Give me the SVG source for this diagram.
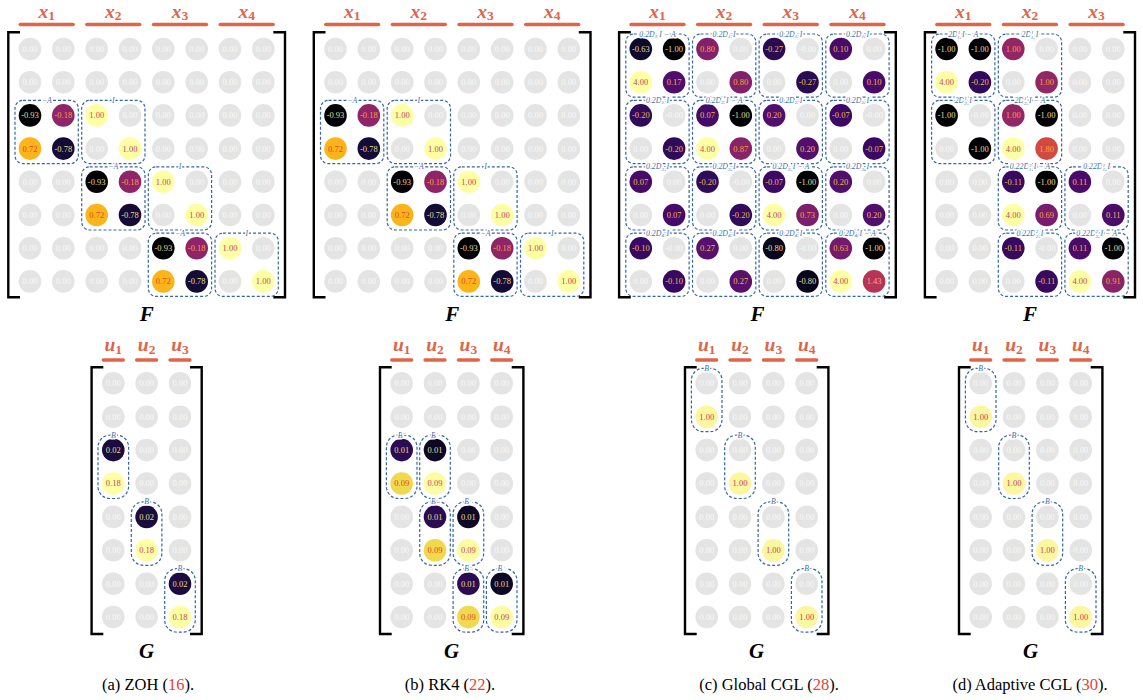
<svg xmlns="http://www.w3.org/2000/svg" width="1143" height="700" viewBox="0 0 1143 700">
<style>
.m{fill:#e4e4e4}
.m text{font-family:"Liberation Serif","DejaVu Serif",serif;font-size:8.5px;text-anchor:middle;fill:#f8f8f8}
.m text.t1{fill:#e2dd8c}
.m text.t2{fill:#ebb64c}
.m text.t3{fill:#f6a03c}
.m text.t4{fill:#e04a2a}
.m text.t5{fill:#d03f57}
.m text.t6{fill:#f9ad80}
.m text.t7{fill:#fca03e}
.bx{fill:none;stroke:#3565a5;stroke-width:1.2;stroke-dasharray:3 2}
.bl{font-family:"Liberation Serif","DejaVu Serif",serif;font-style:italic;font-size:7.8px;fill:#4272ad;text-anchor:middle;stroke:#fff;stroke-width:3;stroke-linejoin:round;paint-order:stroke}
.br{fill:none;stroke:#000;stroke-width:2.4}
.lab{font-family:"Liberation Serif","DejaVu Serif",serif;font-weight:bold;font-style:italic;font-size:19.5px;fill:#e06548;text-anchor:middle}
.lab tspan{font-style:normal;font-size:13.5px}
.bar{stroke:#e06548;stroke-width:3.3;stroke-linecap:round}
.mt{font-family:"Liberation Serif","DejaVu Serif",serif;font-style:italic;font-weight:bold;font-size:21px;text-anchor:middle;fill:#000}
.cap{font-family:"Liberation Serif","DejaVu Serif",serif;font-size:16.5px;text-anchor:middle;fill:#000}
</style>

<!-- ============ (a) F ============ -->
<g id="panel-a-F" transform="translate(30,49)">
<g id="a-F-labels">
<line class="bar" x1="-9.8" y1="-24.5" x2="43.2" y2="-24.5"/><line class="bar" x1="56.8" y1="-24.5" x2="109.8" y2="-24.5"/><line class="bar" x1="123.5" y1="-24.5" x2="176.5" y2="-24.5"/><line class="bar" x1="190.2" y1="-24.5" x2="243.2" y2="-24.5"/>
<text class="lab" x="16.7" y="-31.5">x<tspan dy="2.5">1</tspan></text><text class="lab" x="83.3" y="-31.5">x<tspan dy="2.5">2</tspan></text><text class="lab" x="150" y="-31.5">x<tspan dy="2.5">3</tspan></text><text class="lab" x="216.7" y="-31.5">x<tspan dy="2.5">4</tspan></text>
</g>
<path class="br" d="M-10,-16.7H-21.7V248.3H-10M243.3,-16.7H255V248.3H243.3"/>
<g class="m">
<g><circle cx="0" r="11.3"/><text x="0" y="2.9">0.00</text><circle cx="33.3" r="11.3"/><text x="33.3" y="2.9">0.00</text><circle cx="66.7" r="11.3"/><text x="66.7" y="2.9">0.00</text><circle cx="100" r="11.3"/><text x="100" y="2.9">0.00</text><circle cx="133.3" r="11.3"/><text x="133.3" y="2.9">0.00</text><circle cx="166.7" r="11.3"/><text x="166.7" y="2.9">0.00</text><circle cx="200" r="11.3"/><text x="200" y="2.9">0.00</text><circle cx="233.3" r="11.3"/><text x="233.3" y="2.9">0.00</text></g>
<g transform="translate(0,33.2)"><circle cx="0" r="11.3"/><text x="0" y="2.9">0.00</text><circle cx="33.3" r="11.3"/><text x="33.3" y="2.9">0.00</text><circle cx="66.7" r="11.3"/><text x="66.7" y="2.9">0.00</text><circle cx="100" r="11.3"/><text x="100" y="2.9">0.00</text><circle cx="133.3" r="11.3"/><text x="133.3" y="2.9">0.00</text><circle cx="166.7" r="11.3"/><text x="166.7" y="2.9">0.00</text><circle cx="200" r="11.3"/><text x="200" y="2.9">0.00</text><circle cx="233.3" r="11.3"/><text x="233.3" y="2.9">0.00</text></g>
<g transform="translate(0,66.4)"><circle cx="0" r="11.3" fill="#000004"/><text x="0" y="2.9" class="t1">-0.93</text><circle cx="33.3" r="11.3" fill="#8f2469"/><text x="33.3" y="2.9" class="t3">-0.18</text><circle cx="66.7" r="11.3" fill="#fcffa4"/><text x="66.7" y="2.9" class="t5">1.00</text><circle cx="100" r="11.3"/><text x="100" y="2.9">0.00</text><circle cx="133.3" r="11.3"/><text x="133.3" y="2.9">0.00</text><circle cx="166.7" r="11.3"/><text x="166.7" y="2.9">0.00</text><circle cx="200" r="11.3"/><text x="200" y="2.9">0.00</text><circle cx="233.3" r="11.3"/><text x="233.3" y="2.9">0.00</text></g>
<g transform="translate(0,99.6)"><circle cx="0" r="11.3" fill="#fbb41a"/><text x="0" y="2.9" class="t4">0.72</text><circle cx="33.3" r="11.3" fill="#150b37"/><text x="33.3" y="2.9" class="t1">-0.78</text><circle cx="66.7" r="11.3"/><text x="66.7" y="2.9">0.00</text><circle cx="100" r="11.3" fill="#fcffa4"/><text x="100" y="2.9" class="t5">1.00</text><circle cx="133.3" r="11.3"/><text x="133.3" y="2.9">0.00</text><circle cx="166.7" r="11.3"/><text x="166.7" y="2.9">0.00</text><circle cx="200" r="11.3"/><text x="200" y="2.9">0.00</text><circle cx="233.3" r="11.3"/><text x="233.3" y="2.9">0.00</text></g>
<g transform="translate(0,132.8)"><circle cx="0" r="11.3"/><text x="0" y="2.9">0.00</text><circle cx="33.3" r="11.3"/><text x="33.3" y="2.9">0.00</text><circle cx="66.7" r="11.3" fill="#000004"/><text x="66.7" y="2.9" class="t1">-0.93</text><circle cx="100" r="11.3" fill="#8f2469"/><text x="100" y="2.9" class="t3">-0.18</text><circle cx="133.3" r="11.3" fill="#fcffa4"/><text x="133.3" y="2.9" class="t5">1.00</text><circle cx="166.7" r="11.3"/><text x="166.7" y="2.9">0.00</text><circle cx="200" r="11.3"/><text x="200" y="2.9">0.00</text><circle cx="233.3" r="11.3"/><text x="233.3" y="2.9">0.00</text></g>
<g transform="translate(0,166)"><circle cx="0" r="11.3"/><text x="0" y="2.9">0.00</text><circle cx="33.3" r="11.3"/><text x="33.3" y="2.9">0.00</text><circle cx="66.7" r="11.3" fill="#fbb41a"/><text x="66.7" y="2.9" class="t4">0.72</text><circle cx="100" r="11.3" fill="#150b37"/><text x="100" y="2.9" class="t1">-0.78</text><circle cx="133.3" r="11.3"/><text x="133.3" y="2.9">0.00</text><circle cx="166.7" r="11.3" fill="#fcffa4"/><text x="166.7" y="2.9" class="t5">1.00</text><circle cx="200" r="11.3"/><text x="200" y="2.9">0.00</text><circle cx="233.3" r="11.3"/><text x="233.3" y="2.9">0.00</text></g>
<g transform="translate(0,199.2)"><circle cx="0" r="11.3"/><text x="0" y="2.9">0.00</text><circle cx="33.3" r="11.3"/><text x="33.3" y="2.9">0.00</text><circle cx="66.7" r="11.3"/><text x="66.7" y="2.9">0.00</text><circle cx="100" r="11.3"/><text x="100" y="2.9">0.00</text><circle cx="133.3" r="11.3" fill="#000004"/><text x="133.3" y="2.9" class="t1">-0.93</text><circle cx="166.7" r="11.3" fill="#8f2469"/><text x="166.7" y="2.9" class="t3">-0.18</text><circle cx="200" r="11.3" fill="#fcffa4"/><text x="200" y="2.9" class="t5">1.00</text><circle cx="233.3" r="11.3"/><text x="233.3" y="2.9">0.00</text></g>
<g transform="translate(0,232.4)"><circle cx="0" r="11.3"/><text x="0" y="2.9">0.00</text><circle cx="33.3" r="11.3"/><text x="33.3" y="2.9">0.00</text><circle cx="66.7" r="11.3"/><text x="66.7" y="2.9">0.00</text><circle cx="100" r="11.3"/><text x="100" y="2.9">0.00</text><circle cx="133.3" r="11.3" fill="#fbb41a"/><text x="133.3" y="2.9" class="t4">0.72</text><circle cx="166.7" r="11.3" fill="#150b37"/><text x="166.7" y="2.9" class="t1">-0.78</text><circle cx="200" r="11.3"/><text x="200" y="2.9">0.00</text><circle cx="233.3" r="11.3" fill="#fcffa4"/><text x="233.3" y="2.9" class="t5">1.00</text></g>
</g>
<g id="a-F-blocks">
<rect class="bx" x="-15" y="51.4" width="63.3" height="63.2" rx="8"/><text class="bl" x="16.7" y="53.9">−A</text>
<rect class="bx" x="51.7" y="51.4" width="63.3" height="63.2" rx="8"/><text class="bl" x="83.3" y="53.9">I</text>
<rect class="bx" x="51.7" y="117.8" width="63.3" height="63.2" rx="8"/><text class="bl" x="83.3" y="120.3">−A</text>
<rect class="bx" x="118.3" y="117.8" width="63.3" height="63.2" rx="8"/><text class="bl" x="150" y="120.3">I</text>
<rect class="bx" x="118.3" y="184.2" width="63.3" height="63.2" rx="8"/><text class="bl" x="150" y="186.7">−A</text>
<rect class="bx" x="185" y="184.2" width="63.3" height="63.2" rx="8"/><text class="bl" x="216.7" y="186.7">I</text>
</g>
<text class="mt" x="116.7" y="272">F</text>
</g>

<!-- ============ (b) F ============ -->
<g id="panel-b-F" transform="translate(335.5,49)">
<g id="b-F-labels">
<line class="bar" x1="-9.8" y1="-24.5" x2="43.2" y2="-24.5"/><line class="bar" x1="56.8" y1="-24.5" x2="109.8" y2="-24.5"/><line class="bar" x1="123.5" y1="-24.5" x2="176.5" y2="-24.5"/><line class="bar" x1="190.2" y1="-24.5" x2="243.2" y2="-24.5"/>
<text class="lab" x="16.7" y="-31.5">x<tspan dy="2.5">1</tspan></text><text class="lab" x="83.3" y="-31.5">x<tspan dy="2.5">2</tspan></text><text class="lab" x="150" y="-31.5">x<tspan dy="2.5">3</tspan></text><text class="lab" x="216.7" y="-31.5">x<tspan dy="2.5">4</tspan></text>
</g>
<path class="br" d="M-10,-16.7H-21.7V248.3H-10M243.3,-16.7H255V248.3H243.3"/>
<g class="m">
<g><circle cx="0" r="11.3"/><text x="0" y="2.9">0.00</text><circle cx="33.3" r="11.3"/><text x="33.3" y="2.9">0.00</text><circle cx="66.7" r="11.3"/><text x="66.7" y="2.9">0.00</text><circle cx="100" r="11.3"/><text x="100" y="2.9">0.00</text><circle cx="133.3" r="11.3"/><text x="133.3" y="2.9">0.00</text><circle cx="166.7" r="11.3"/><text x="166.7" y="2.9">0.00</text><circle cx="200" r="11.3"/><text x="200" y="2.9">0.00</text><circle cx="233.3" r="11.3"/><text x="233.3" y="2.9">0.00</text></g>
<g transform="translate(0,33.2)"><circle cx="0" r="11.3"/><text x="0" y="2.9">0.00</text><circle cx="33.3" r="11.3"/><text x="33.3" y="2.9">0.00</text><circle cx="66.7" r="11.3"/><text x="66.7" y="2.9">0.00</text><circle cx="100" r="11.3"/><text x="100" y="2.9">0.00</text><circle cx="133.3" r="11.3"/><text x="133.3" y="2.9">0.00</text><circle cx="166.7" r="11.3"/><text x="166.7" y="2.9">0.00</text><circle cx="200" r="11.3"/><text x="200" y="2.9">0.00</text><circle cx="233.3" r="11.3"/><text x="233.3" y="2.9">0.00</text></g>
<g transform="translate(0,66.4)"><circle cx="0" r="11.3" fill="#000004"/><text x="0" y="2.9" class="t1">-0.93</text><circle cx="33.3" r="11.3" fill="#8f2469"/><text x="33.3" y="2.9" class="t3">-0.18</text><circle cx="66.7" r="11.3" fill="#fcffa4"/><text x="66.7" y="2.9" class="t5">1.00</text><circle cx="100" r="11.3"/><text x="100" y="2.9">0.00</text><circle cx="133.3" r="11.3"/><text x="133.3" y="2.9">0.00</text><circle cx="166.7" r="11.3"/><text x="166.7" y="2.9">0.00</text><circle cx="200" r="11.3"/><text x="200" y="2.9">0.00</text><circle cx="233.3" r="11.3"/><text x="233.3" y="2.9">0.00</text></g>
<g transform="translate(0,99.6)"><circle cx="0" r="11.3" fill="#fbb41a"/><text x="0" y="2.9" class="t4">0.72</text><circle cx="33.3" r="11.3" fill="#150b37"/><text x="33.3" y="2.9" class="t1">-0.78</text><circle cx="66.7" r="11.3"/><text x="66.7" y="2.9">0.00</text><circle cx="100" r="11.3" fill="#fcffa4"/><text x="100" y="2.9" class="t5">1.00</text><circle cx="133.3" r="11.3"/><text x="133.3" y="2.9">0.00</text><circle cx="166.7" r="11.3"/><text x="166.7" y="2.9">0.00</text><circle cx="200" r="11.3"/><text x="200" y="2.9">0.00</text><circle cx="233.3" r="11.3"/><text x="233.3" y="2.9">0.00</text></g>
<g transform="translate(0,132.8)"><circle cx="0" r="11.3"/><text x="0" y="2.9">0.00</text><circle cx="33.3" r="11.3"/><text x="33.3" y="2.9">0.00</text><circle cx="66.7" r="11.3" fill="#000004"/><text x="66.7" y="2.9" class="t1">-0.93</text><circle cx="100" r="11.3" fill="#8f2469"/><text x="100" y="2.9" class="t3">-0.18</text><circle cx="133.3" r="11.3" fill="#fcffa4"/><text x="133.3" y="2.9" class="t5">1.00</text><circle cx="166.7" r="11.3"/><text x="166.7" y="2.9">0.00</text><circle cx="200" r="11.3"/><text x="200" y="2.9">0.00</text><circle cx="233.3" r="11.3"/><text x="233.3" y="2.9">0.00</text></g>
<g transform="translate(0,166)"><circle cx="0" r="11.3"/><text x="0" y="2.9">0.00</text><circle cx="33.3" r="11.3"/><text x="33.3" y="2.9">0.00</text><circle cx="66.7" r="11.3" fill="#fbb41a"/><text x="66.7" y="2.9" class="t4">0.72</text><circle cx="100" r="11.3" fill="#150b37"/><text x="100" y="2.9" class="t1">-0.78</text><circle cx="133.3" r="11.3"/><text x="133.3" y="2.9">0.00</text><circle cx="166.7" r="11.3" fill="#fcffa4"/><text x="166.7" y="2.9" class="t5">1.00</text><circle cx="200" r="11.3"/><text x="200" y="2.9">0.00</text><circle cx="233.3" r="11.3"/><text x="233.3" y="2.9">0.00</text></g>
<g transform="translate(0,199.2)"><circle cx="0" r="11.3"/><text x="0" y="2.9">0.00</text><circle cx="33.3" r="11.3"/><text x="33.3" y="2.9">0.00</text><circle cx="66.7" r="11.3"/><text x="66.7" y="2.9">0.00</text><circle cx="100" r="11.3"/><text x="100" y="2.9">0.00</text><circle cx="133.3" r="11.3" fill="#000004"/><text x="133.3" y="2.9" class="t1">-0.93</text><circle cx="166.7" r="11.3" fill="#8f2469"/><text x="166.7" y="2.9" class="t3">-0.18</text><circle cx="200" r="11.3" fill="#fcffa4"/><text x="200" y="2.9" class="t5">1.00</text><circle cx="233.3" r="11.3"/><text x="233.3" y="2.9">0.00</text></g>
<g transform="translate(0,232.4)"><circle cx="0" r="11.3"/><text x="0" y="2.9">0.00</text><circle cx="33.3" r="11.3"/><text x="33.3" y="2.9">0.00</text><circle cx="66.7" r="11.3"/><text x="66.7" y="2.9">0.00</text><circle cx="100" r="11.3"/><text x="100" y="2.9">0.00</text><circle cx="133.3" r="11.3" fill="#fbb41a"/><text x="133.3" y="2.9" class="t4">0.72</text><circle cx="166.7" r="11.3" fill="#150b37"/><text x="166.7" y="2.9" class="t1">-0.78</text><circle cx="200" r="11.3"/><text x="200" y="2.9">0.00</text><circle cx="233.3" r="11.3" fill="#fcffa4"/><text x="233.3" y="2.9" class="t5">1.00</text></g>
</g>
<g id="b-F-blocks">
<rect class="bx" x="-15" y="51.4" width="63.3" height="63.2" rx="8"/><text class="bl" x="16.7" y="53.9">−A</text>
<rect class="bx" x="51.7" y="51.4" width="63.3" height="63.2" rx="8"/><text class="bl" x="83.3" y="53.9">I</text>
<rect class="bx" x="51.7" y="117.8" width="63.3" height="63.2" rx="8"/><text class="bl" x="83.3" y="120.3">−A</text>
<rect class="bx" x="118.3" y="117.8" width="63.3" height="63.2" rx="8"/><text class="bl" x="150" y="120.3">I</text>
<rect class="bx" x="118.3" y="184.2" width="63.3" height="63.2" rx="8"/><text class="bl" x="150" y="186.7">−A</text>
<rect class="bx" x="185" y="184.2" width="63.3" height="63.2" rx="8"/><text class="bl" x="216.7" y="186.7">I</text>
</g>
<text class="mt" x="116.7" y="272">F</text>
</g>

<!-- ============ (c) F ============ -->
<g id="panel-c-F" transform="translate(640.8,49)">
<g id="c-F-labels">
<line class="bar" x1="-9.8" y1="-24.5" x2="43.2" y2="-24.5"/><line class="bar" x1="56.8" y1="-24.5" x2="109.8" y2="-24.5"/><line class="bar" x1="123.5" y1="-24.5" x2="176.5" y2="-24.5"/><line class="bar" x1="190.2" y1="-24.5" x2="243.2" y2="-24.5"/>
<text class="lab" x="16.7" y="-31.5">x<tspan dy="2.5">1</tspan></text><text class="lab" x="83.3" y="-31.5">x<tspan dy="2.5">2</tspan></text><text class="lab" x="150" y="-31.5">x<tspan dy="2.5">3</tspan></text><text class="lab" x="216.7" y="-31.5">x<tspan dy="2.5">4</tspan></text>
</g>
<path class="br" d="M-10,-16.7H-21.7V248.3H-10M243.3,-16.7H255V248.3H243.3"/>
<g class="m">
<g><circle cx="0" r="11.3" fill="#0f092e"/><text x="0" y="2.9" class="t1">-0.63</text><circle cx="33.3" r="11.3" fill="#000004"/><text x="33.3" y="2.9" class="t1">-1.00</text><circle cx="66.7" r="11.3" fill="#82206c"/><text x="66.7" y="2.9" class="t3">0.80</text><circle cx="100" r="11.3"/><text x="100" y="2.9">0.00</text><circle cx="133.3" r="11.3" fill="#2a0b52"/><text x="133.3" y="2.9" class="t2">-0.27</text><circle cx="166.7" r="11.3"/><text x="166.7" y="2.9">-0.00</text><circle cx="200" r="11.3" fill="#490b6a"/><text x="200" y="2.9" class="t2">0.10</text><circle cx="233.3" r="11.3"/><text x="233.3" y="2.9">0.00</text></g>
<g transform="translate(0,33.2)"><circle cx="0" r="11.3" fill="#fcffa4"/><text x="0" y="2.9" class="t5">4.00</text><circle cx="33.3" r="11.3" fill="#500d6c"/><text x="33.3" y="2.9" class="t2">0.17</text><circle cx="66.7" r="11.3"/><text x="66.7" y="2.9">0.00</text><circle cx="100" r="11.3" fill="#82206c"/><text x="100" y="2.9" class="t3">0.80</text><circle cx="133.3" r="11.3"/><text x="133.3" y="2.9">0.00</text><circle cx="166.7" r="11.3" fill="#2a0b52"/><text x="166.7" y="2.9" class="t2">-0.27</text><circle cx="200" r="11.3"/><text x="200" y="2.9">0.00</text><circle cx="233.3" r="11.3" fill="#490b6a"/><text x="233.3" y="2.9" class="t2">0.10</text></g>
<g transform="translate(0,66.4)"><circle cx="0" r="11.3" fill="#300a5b"/><text x="0" y="2.9" class="t2">-0.20</text><circle cx="33.3" r="11.3"/><text x="33.3" y="2.9">-0.00</text><circle cx="66.7" r="11.3" fill="#460a69"/><text x="66.7" y="2.9" class="t2">0.07</text><circle cx="100" r="11.3" fill="#000004"/><text x="100" y="2.9" class="t1">-1.00</text><circle cx="133.3" r="11.3" fill="#520e6d"/><text x="133.3" y="2.9" class="t2">0.20</text><circle cx="166.7" r="11.3"/><text x="166.7" y="2.9">0.00</text><circle cx="200" r="11.3" fill="#3b0964"/><text x="200" y="2.9" class="t2">-0.07</text><circle cx="233.3" r="11.3"/><text x="233.3" y="2.9">-0.00</text></g>
<g transform="translate(0,99.6)"><circle cx="0" r="11.3"/><text x="0" y="2.9">0.00</text><circle cx="33.3" r="11.3" fill="#300a5b"/><text x="33.3" y="2.9" class="t2">-0.20</text><circle cx="66.7" r="11.3" fill="#fcffa4"/><text x="66.7" y="2.9" class="t5">4.00</text><circle cx="100" r="11.3" fill="#88226a"/><text x="100" y="2.9" class="t3">0.87</text><circle cx="133.3" r="11.3"/><text x="133.3" y="2.9">0.00</text><circle cx="166.7" r="11.3" fill="#520e6d"/><text x="166.7" y="2.9" class="t2">0.20</text><circle cx="200" r="11.3"/><text x="200" y="2.9">0.00</text><circle cx="233.3" r="11.3" fill="#3b0964"/><text x="233.3" y="2.9" class="t2">-0.07</text></g>
<g transform="translate(0,132.8)"><circle cx="0" r="11.3" fill="#460a69"/><text x="0" y="2.9" class="t2">0.07</text><circle cx="33.3" r="11.3"/><text x="33.3" y="2.9">0.00</text><circle cx="66.7" r="11.3" fill="#300a5b"/><text x="66.7" y="2.9" class="t2">-0.20</text><circle cx="100" r="11.3"/><text x="100" y="2.9">-0.00</text><circle cx="133.3" r="11.3" fill="#3b0964"/><text x="133.3" y="2.9" class="t2">-0.07</text><circle cx="166.7" r="11.3" fill="#000004"/><text x="166.7" y="2.9" class="t1">-1.00</text><circle cx="200" r="11.3" fill="#520e6d"/><text x="200" y="2.9" class="t2">0.20</text><circle cx="233.3" r="11.3"/><text x="233.3" y="2.9">0.00</text></g>
<g transform="translate(0,166)"><circle cx="0" r="11.3"/><text x="0" y="2.9">0.00</text><circle cx="33.3" r="11.3" fill="#460a69"/><text x="33.3" y="2.9" class="t2">0.07</text><circle cx="66.7" r="11.3"/><text x="66.7" y="2.9">0.00</text><circle cx="100" r="11.3" fill="#300a5b"/><text x="100" y="2.9" class="t2">-0.20</text><circle cx="133.3" r="11.3" fill="#fcffa4"/><text x="133.3" y="2.9" class="t5">4.00</text><circle cx="166.7" r="11.3" fill="#7c1d6d"/><text x="166.7" y="2.9" class="t3">0.73</text><circle cx="200" r="11.3"/><text x="200" y="2.9">0.00</text><circle cx="233.3" r="11.3" fill="#520e6d"/><text x="233.3" y="2.9" class="t2">0.20</text></g>
<g transform="translate(0,199.2)"><circle cx="0" r="11.3" fill="#380962"/><text x="0" y="2.9" class="t2">-0.10</text><circle cx="33.3" r="11.3"/><text x="33.3" y="2.9">-0.00</text><circle cx="66.7" r="11.3" fill="#58106e"/><text x="66.7" y="2.9" class="t2">0.27</text><circle cx="100" r="11.3"/><text x="100" y="2.9">0.00</text><circle cx="133.3" r="11.3" fill="#08051d"/><text x="133.3" y="2.9" class="t1">-0.80</text><circle cx="166.7" r="11.3"/><text x="166.7" y="2.9">-0.00</text><circle cx="200" r="11.3" fill="#751a6e"/><text x="200" y="2.9" class="t3">0.63</text><circle cx="233.3" r="11.3" fill="#000004"/><text x="233.3" y="2.9" class="t1">-1.00</text></g>
<g transform="translate(0,232.4)"><circle cx="0" r="11.3"/><text x="0" y="2.9">0.00</text><circle cx="33.3" r="11.3" fill="#380962"/><text x="33.3" y="2.9" class="t2">-0.10</text><circle cx="66.7" r="11.3"/><text x="66.7" y="2.9">0.00</text><circle cx="100" r="11.3" fill="#58106e"/><text x="100" y="2.9" class="t2">0.27</text><circle cx="133.3" r="11.3"/><text x="133.3" y="2.9">0.00</text><circle cx="166.7" r="11.3" fill="#08051d"/><text x="166.7" y="2.9" class="t1">-0.80</text><circle cx="200" r="11.3" fill="#fcffa4"/><text x="200" y="2.9" class="t5">4.00</text><circle cx="233.3" r="11.3" fill="#b63458"/><text x="233.3" y="2.9" class="t6">1.43</text></g>
</g>
<g id="c-F-blocks">
<rect class="bx" x="-15" y="-15" width="63.3" height="63.2" rx="8"/><text class="bl" x="16.7" y="-12.5">0.2D<tspan font-size="5" dy="1.5">11</tspan><tspan dy="-1.5">I − A</tspan></text>
<rect class="bx" x="51.7" y="-15" width="63.3" height="63.2" rx="8"/><text class="bl" x="83.3" y="-12.5">0.2D<tspan font-size="5" dy="1.5">12</tspan><tspan dy="-1.5">I</tspan></text>
<rect class="bx" x="118.3" y="-15" width="63.3" height="63.2" rx="8"/><text class="bl" x="150" y="-12.5">0.2D<tspan font-size="5" dy="1.5">13</tspan><tspan dy="-1.5">I</tspan></text>
<rect class="bx" x="185" y="-15" width="63.3" height="63.2" rx="8"/><text class="bl" x="216.7" y="-12.5">0.2D<tspan font-size="5" dy="1.5">14</tspan><tspan dy="-1.5">I</tspan></text>
<rect class="bx" x="-15" y="51.4" width="63.3" height="63.2" rx="8"/><text class="bl" x="16.7" y="53.9">0.2D<tspan font-size="5" dy="1.5">21</tspan><tspan dy="-1.5">I</tspan></text>
<rect class="bx" x="51.7" y="51.4" width="63.3" height="63.2" rx="8"/><text class="bl" x="83.3" y="53.9">0.2D<tspan font-size="5" dy="1.5">22</tspan><tspan dy="-1.5">I − A</tspan></text>
<rect class="bx" x="118.3" y="51.4" width="63.3" height="63.2" rx="8"/><text class="bl" x="150" y="53.9">0.2D<tspan font-size="5" dy="1.5">23</tspan><tspan dy="-1.5">I</tspan></text>
<rect class="bx" x="185" y="51.4" width="63.3" height="63.2" rx="8"/><text class="bl" x="216.7" y="53.9">0.2D<tspan font-size="5" dy="1.5">24</tspan><tspan dy="-1.5">I</tspan></text>
<rect class="bx" x="-15" y="117.8" width="63.3" height="63.2" rx="8"/><text class="bl" x="16.7" y="120.3">0.2D<tspan font-size="5" dy="1.5">31</tspan><tspan dy="-1.5">I</tspan></text>
<rect class="bx" x="51.7" y="117.8" width="63.3" height="63.2" rx="8"/><text class="bl" x="83.3" y="120.3">0.2D<tspan font-size="5" dy="1.5">32</tspan><tspan dy="-1.5">I</tspan></text>
<rect class="bx" x="118.3" y="117.8" width="63.3" height="63.2" rx="8"/><text class="bl" x="150" y="120.3">0.2D<tspan font-size="5" dy="1.5">33</tspan><tspan dy="-1.5">I − A</tspan></text>
<rect class="bx" x="185" y="117.8" width="63.3" height="63.2" rx="8"/><text class="bl" x="216.7" y="120.3">0.2D<tspan font-size="5" dy="1.5">34</tspan><tspan dy="-1.5">I</tspan></text>
<rect class="bx" x="-15" y="184.2" width="63.3" height="63.2" rx="8"/><text class="bl" x="16.7" y="186.7">0.2D<tspan font-size="5" dy="1.5">41</tspan><tspan dy="-1.5">I</tspan></text>
<rect class="bx" x="51.7" y="184.2" width="63.3" height="63.2" rx="8"/><text class="bl" x="83.3" y="186.7">0.2D<tspan font-size="5" dy="1.5">42</tspan><tspan dy="-1.5">I</tspan></text>
<rect class="bx" x="118.3" y="184.2" width="63.3" height="63.2" rx="8"/><text class="bl" x="150" y="186.7">0.2D<tspan font-size="5" dy="1.5">43</tspan><tspan dy="-1.5">I</tspan></text>
<rect class="bx" x="185" y="184.2" width="63.3" height="63.2" rx="8"/><text class="bl" x="216.7" y="186.7">0.2D<tspan font-size="5" dy="1.5">44</tspan><tspan dy="-1.5">I − A</tspan></text>
</g>
<text class="mt" x="116.7" y="272">F</text>
</g>

<!-- ============ (d) F ============ -->
<g id="panel-d-F" transform="translate(946.6,49)">
<g id="d-F-labels">
<line class="bar" x1="-9.8" y1="-24.5" x2="43.2" y2="-24.5"/><line class="bar" x1="56.8" y1="-24.5" x2="109.8" y2="-24.5"/><line class="bar" x1="123.5" y1="-24.5" x2="176.5" y2="-24.5"/>
<text class="lab" x="16.7" y="-31.5">x<tspan dy="2.5">1</tspan></text><text class="lab" x="83.3" y="-31.5">x<tspan dy="2.5">2</tspan></text><text class="lab" x="150" y="-31.5">x<tspan dy="2.5">3</tspan></text>
</g>
<path class="br" d="M-10,-16.7H-21.7V248.3H-10M176.7,-16.7H188.4V248.3H176.7"/>
<g class="m">
<g><circle cx="0" r="11.3" fill="#000004"/><text x="0" y="2.9" class="t1">-1.00</text><circle cx="33.3" r="11.3" fill="#000004"/><text x="33.3" y="2.9" class="t1">-1.00</text><circle cx="66.7" r="11.3" fill="#932667"/><text x="66.7" y="2.9" class="t3">1.00</text><circle cx="100" r="11.3"/><text x="100" y="2.9">0.00</text><circle cx="133.3" r="11.3"/><text x="133.3" y="2.9">0.00</text><circle cx="166.7" r="11.3"/><text x="166.7" y="2.9">0.00</text></g>
<g transform="translate(0,33.2)"><circle cx="0" r="11.3" fill="#fcffa4"/><text x="0" y="2.9" class="t5">4.00</text><circle cx="33.3" r="11.3" fill="#300a5b"/><text x="33.3" y="2.9" class="t2">-0.20</text><circle cx="66.7" r="11.3"/><text x="66.7" y="2.9">0.00</text><circle cx="100" r="11.3" fill="#932667"/><text x="100" y="2.9" class="t3">1.00</text><circle cx="133.3" r="11.3"/><text x="133.3" y="2.9">0.00</text><circle cx="166.7" r="11.3"/><text x="166.7" y="2.9">0.00</text></g>
<g transform="translate(0,66.4)"><circle cx="0" r="11.3" fill="#000004"/><text x="0" y="2.9" class="t1">-1.00</text><circle cx="33.3" r="11.3"/><text x="33.3" y="2.9">-0.00</text><circle cx="66.7" r="11.3" fill="#932667"/><text x="66.7" y="2.9" class="t3">1.00</text><circle cx="100" r="11.3" fill="#000004"/><text x="100" y="2.9" class="t1">-1.00</text><circle cx="133.3" r="11.3"/><text x="133.3" y="2.9">0.00</text><circle cx="166.7" r="11.3"/><text x="166.7" y="2.9">0.00</text></g>
<g transform="translate(0,99.6)"><circle cx="0" r="11.3"/><text x="0" y="2.9">0.00</text><circle cx="33.3" r="11.3" fill="#000004"/><text x="33.3" y="2.9" class="t1">-1.00</text><circle cx="66.7" r="11.3" fill="#fcffa4"/><text x="66.7" y="2.9" class="t5">4.00</text><circle cx="100" r="11.3" fill="#d44842"/><text x="100" y="2.9" class="t7">1.80</text><circle cx="133.3" r="11.3"/><text x="133.3" y="2.9">0.00</text><circle cx="166.7" r="11.3"/><text x="166.7" y="2.9">0.00</text></g>
<g transform="translate(0,132.8)"><circle cx="0" r="11.3"/><text x="0" y="2.9">0.00</text><circle cx="33.3" r="11.3"/><text x="33.3" y="2.9">0.00</text><circle cx="66.7" r="11.3" fill="#37095f"/><text x="66.7" y="2.9" class="t2">-0.11</text><circle cx="100" r="11.3" fill="#000004"/><text x="100" y="2.9" class="t1">-1.00</text><circle cx="133.3" r="11.3" fill="#4a0b6a"/><text x="133.3" y="2.9" class="t2">0.11</text><circle cx="166.7" r="11.3"/><text x="166.7" y="2.9">0.00</text></g>
<g transform="translate(0,166)"><circle cx="0" r="11.3"/><text x="0" y="2.9">0.00</text><circle cx="33.3" r="11.3"/><text x="33.3" y="2.9">0.00</text><circle cx="66.7" r="11.3" fill="#fcffa4"/><text x="66.7" y="2.9" class="t5">4.00</text><circle cx="100" r="11.3" fill="#791c6d"/><text x="100" y="2.9" class="t3">0.69</text><circle cx="133.3" r="11.3"/><text x="133.3" y="2.9">0.00</text><circle cx="166.7" r="11.3" fill="#4a0b6a"/><text x="166.7" y="2.9" class="t2">0.11</text></g>
<g transform="translate(0,199.2)"><circle cx="0" r="11.3"/><text x="0" y="2.9">0.00</text><circle cx="33.3" r="11.3"/><text x="33.3" y="2.9">0.00</text><circle cx="66.7" r="11.3" fill="#37095f"/><text x="66.7" y="2.9" class="t2">-0.11</text><circle cx="100" r="11.3"/><text x="100" y="2.9">-0.00</text><circle cx="133.3" r="11.3" fill="#4a0b6a"/><text x="133.3" y="2.9" class="t2">0.11</text><circle cx="166.7" r="11.3" fill="#000004"/><text x="166.7" y="2.9" class="t1">-1.00</text></g>
<g transform="translate(0,232.4)"><circle cx="0" r="11.3"/><text x="0" y="2.9">0.00</text><circle cx="33.3" r="11.3"/><text x="33.3" y="2.9">0.00</text><circle cx="66.7" r="11.3"/><text x="66.7" y="2.9">0.00</text><circle cx="100" r="11.3" fill="#37095f"/><text x="100" y="2.9" class="t2">-0.11</text><circle cx="133.3" r="11.3" fill="#fcffa4"/><text x="133.3" y="2.9" class="t5">4.00</text><circle cx="166.7" r="11.3" fill="#8b2369"/><text x="166.7" y="2.9" class="t3">0.91</text></g>
</g>
<g id="d-F-blocks">
<rect class="bx" x="-15" y="-15" width="63.3" height="63.2" rx="8"/><text class="bl" x="16.7" y="-12.5">2D<tspan font-size="5" dy="-2.5">1</tspan><tspan font-size="5" dx="-2.5" dy="4.5">11</tspan><tspan dy="-2">I − A</tspan></text>
<rect class="bx" x="51.7" y="-15" width="63.3" height="63.2" rx="8"/><text class="bl" x="83.3" y="-12.5">2D<tspan font-size="5" dy="-2.5">1</tspan><tspan font-size="5" dx="-2.5" dy="4.5">12</tspan><tspan dy="-2">I</tspan></text>
<rect class="bx" x="-15" y="51.4" width="63.3" height="63.2" rx="8"/><text class="bl" x="16.7" y="53.9">2D<tspan font-size="5" dy="-2.5">1</tspan><tspan font-size="5" dx="-2.5" dy="4.5">21</tspan><tspan dy="-2">I</tspan></text>
<rect class="bx" x="51.7" y="51.4" width="63.3" height="63.2" rx="8"/><text class="bl" x="83.3" y="53.9">2D<tspan font-size="5" dy="-2.5">1</tspan><tspan font-size="5" dx="-2.5" dy="4.5">22</tspan><tspan dy="-2">I − A</tspan></text>
<rect class="bx" x="51.7" y="117.8" width="63.3" height="63.2" rx="8"/><text class="bl" x="83.3" y="120.3">0.22D<tspan font-size="5" dy="-2.5">2</tspan><tspan font-size="5" dx="-2.5" dy="4.5">11</tspan><tspan dy="-2">I − A</tspan></text>
<rect class="bx" x="118.3" y="117.8" width="63.3" height="63.2" rx="8"/><text class="bl" x="150" y="120.3">0.22D<tspan font-size="5" dy="-2.5">2</tspan><tspan font-size="5" dx="-2.5" dy="4.5">12</tspan><tspan dy="-2">I</tspan></text>
<rect class="bx" x="51.7" y="184.2" width="63.3" height="63.2" rx="8"/><text class="bl" x="83.3" y="186.7">0.22D<tspan font-size="5" dy="-2.5">2</tspan><tspan font-size="5" dx="-2.5" dy="4.5">21</tspan><tspan dy="-2">I</tspan></text>
<rect class="bx" x="118.3" y="184.2" width="63.3" height="63.2" rx="8"/><text class="bl" x="150" y="186.7">0.22D<tspan font-size="5" dy="-2.5">2</tspan><tspan font-size="5" dx="-2.5" dy="4.5">22</tspan><tspan dy="-2">I − A</tspan></text>
</g>
<text class="mt" x="83.3" y="272">F</text>
</g>

<!-- ============ (a) G ============ -->
<g id="panel-a-G" transform="translate(113.3,383.3)">
<g id="a-G-labels">
<line class="bar" x1="-10" y1="-23.3" x2="10" y2="-23.3"/><line class="bar" x1="23.3" y1="-23.3" x2="43.3" y2="-23.3"/><line class="bar" x1="56.7" y1="-23.3" x2="76.7" y2="-23.3"/>
<text class="lab" x="0" y="-32">u<tspan dy="2.5">1</tspan></text><text class="lab" x="33.3" y="-32">u<tspan dy="2.5">2</tspan></text><text class="lab" x="66.7" y="-32">u<tspan dy="2.5">3</tspan></text>
</g>
<path class="br" d="M-10,-16H-21.7V250.7H-10M76.7,-16H88.4V250.7H76.7"/>
<g class="m">
<g><circle cx="0" r="11.3"/><text x="0" y="2.9">0.00</text><circle cx="33.3" r="11.3"/><text x="33.3" y="2.9">0.00</text><circle cx="66.7" r="11.3"/><text x="66.7" y="2.9">0.00</text></g>
<g transform="translate(0,33.4)"><circle cx="0" r="11.3"/><text x="0" y="2.9">0.00</text><circle cx="33.3" r="11.3"/><text x="33.3" y="2.9">0.00</text><circle cx="66.7" r="11.3"/><text x="66.7" y="2.9">0.00</text></g>
<g transform="translate(0,66.8)"><circle cx="0" r="11.3" fill="#1b0c40"/><text x="0" y="2.9" class="t1">0.02</text><circle cx="33.3" r="11.3"/><text x="33.3" y="2.9">0.00</text><circle cx="66.7" r="11.3"/><text x="66.7" y="2.9">0.00</text></g>
<g transform="translate(0,100.2)"><circle cx="0" r="11.3" fill="#fcffa4"/><text x="0" y="2.9" class="t5">0.18</text><circle cx="33.3" r="11.3"/><text x="33.3" y="2.9">0.00</text><circle cx="66.7" r="11.3"/><text x="66.7" y="2.9">0.00</text></g>
<g transform="translate(0,133.6)"><circle cx="0" r="11.3"/><text x="0" y="2.9">0.00</text><circle cx="33.3" r="11.3" fill="#1b0c40"/><text x="33.3" y="2.9" class="t1">0.02</text><circle cx="66.7" r="11.3"/><text x="66.7" y="2.9">0.00</text></g>
<g transform="translate(0,167)"><circle cx="0" r="11.3"/><text x="0" y="2.9">0.00</text><circle cx="33.3" r="11.3" fill="#fcffa4"/><text x="33.3" y="2.9" class="t5">0.18</text><circle cx="66.7" r="11.3"/><text x="66.7" y="2.9">0.00</text></g>
<g transform="translate(0,200.4)"><circle cx="0" r="11.3"/><text x="0" y="2.9">0.00</text><circle cx="33.3" r="11.3"/><text x="33.3" y="2.9">0.00</text><circle cx="66.7" r="11.3" fill="#1b0c40"/><text x="66.7" y="2.9" class="t1">0.02</text></g>
<g transform="translate(0,233.8)"><circle cx="0" r="11.3"/><text x="0" y="2.9">0.00</text><circle cx="33.3" r="11.3"/><text x="33.3" y="2.9">0.00</text><circle cx="66.7" r="11.3" fill="#fcffa4"/><text x="66.7" y="2.9" class="t5">0.18</text></g>
</g>
<g id="a-G-blocks">
<rect class="bx" x="-15.3" y="51.8" width="30.6" height="63.4" rx="12"/><text class="bl" x="0" y="54.3">B</text>
<rect class="bx" x="18" y="118.6" width="30.6" height="63.4" rx="12"/><text class="bl" x="33.3" y="121.1">B</text>
<rect class="bx" x="51.4" y="185.4" width="30.6" height="63.4" rx="12"/><text class="bl" x="66.7" y="187.9">B</text>
</g>
<text class="mt" x="33.3" y="274.7">G</text>
</g>

<!-- ============ (b) G ============ -->
<g id="panel-b-G" transform="translate(401.7,383.3)">
<g id="b-G-labels">
<line class="bar" x1="-10" y1="-23.3" x2="10" y2="-23.3"/><line class="bar" x1="23.3" y1="-23.3" x2="43.3" y2="-23.3"/><line class="bar" x1="56.7" y1="-23.3" x2="76.7" y2="-23.3"/><line class="bar" x1="90" y1="-23.3" x2="110" y2="-23.3"/>
<text class="lab" x="0" y="-32">u<tspan dy="2.5">1</tspan></text><text class="lab" x="33.3" y="-32">u<tspan dy="2.5">2</tspan></text><text class="lab" x="66.7" y="-32">u<tspan dy="2.5">3</tspan></text><text class="lab" x="100" y="-32">u<tspan dy="2.5">4</tspan></text>
</g>
<path class="br" d="M-10,-16H-21.7V250.7H-10M110,-16H121.7V250.7H110"/>
<g class="m">
<g><circle cx="0" r="11.3"/><text x="0" y="2.9">0.00</text><circle cx="33.3" r="11.3"/><text x="33.3" y="2.9">0.00</text><circle cx="66.7" r="11.3"/><text x="66.7" y="2.9">0.00</text><circle cx="100" r="11.3"/><text x="100" y="2.9">0.00</text></g>
<g transform="translate(0,33.4)"><circle cx="0" r="11.3"/><text x="0" y="2.9">0.00</text><circle cx="33.3" r="11.3"/><text x="33.3" y="2.9">0.00</text><circle cx="66.7" r="11.3"/><text x="66.7" y="2.9">0.00</text><circle cx="100" r="11.3"/><text x="100" y="2.9">0.00</text></g>
<g transform="translate(0,66.8)"><circle cx="0" r="11.3" fill="#2b0b52"/><text x="0" y="2.9" class="t1">0.01</text><circle cx="33.3" r="11.3" fill="#0d0826"/><text x="33.3" y="2.9" class="t1">0.01</text><circle cx="66.7" r="11.3"/><text x="66.7" y="2.9">0.00</text><circle cx="100" r="11.3"/><text x="100" y="2.9">0.00</text></g>
<g transform="translate(0,100.2)"><circle cx="0" r="11.3" fill="#f1d84c"/><text x="0" y="2.9" class="t4">0.09</text><circle cx="33.3" r="11.3" fill="#fcfca2"/><text x="33.3" y="2.9" class="t5">0.09</text><circle cx="66.7" r="11.3"/><text x="66.7" y="2.9">0.00</text><circle cx="100" r="11.3"/><text x="100" y="2.9">0.00</text></g>
<g transform="translate(0,133.6)"><circle cx="0" r="11.3"/><text x="0" y="2.9">0.00</text><circle cx="33.3" r="11.3" fill="#2b0b52"/><text x="33.3" y="2.9" class="t1">0.01</text><circle cx="66.7" r="11.3" fill="#0d0826"/><text x="66.7" y="2.9" class="t1">0.01</text><circle cx="100" r="11.3"/><text x="100" y="2.9">0.00</text></g>
<g transform="translate(0,167)"><circle cx="0" r="11.3"/><text x="0" y="2.9">0.00</text><circle cx="33.3" r="11.3" fill="#f1d84c"/><text x="33.3" y="2.9" class="t4">0.09</text><circle cx="66.7" r="11.3" fill="#fcfca2"/><text x="66.7" y="2.9" class="t5">0.09</text><circle cx="100" r="11.3"/><text x="100" y="2.9">0.00</text></g>
<g transform="translate(0,200.4)"><circle cx="0" r="11.3"/><text x="0" y="2.9">0.00</text><circle cx="33.3" r="11.3"/><text x="33.3" y="2.9">0.00</text><circle cx="66.7" r="11.3" fill="#2b0b52"/><text x="66.7" y="2.9" class="t1">0.01</text><circle cx="100" r="11.3" fill="#0d0826"/><text x="100" y="2.9" class="t1">0.01</text></g>
<g transform="translate(0,233.8)"><circle cx="0" r="11.3"/><text x="0" y="2.9">0.00</text><circle cx="33.3" r="11.3"/><text x="33.3" y="2.9">0.00</text><circle cx="66.7" r="11.3" fill="#f1d84c"/><text x="66.7" y="2.9" class="t4">0.09</text><circle cx="100" r="11.3" fill="#fcfca2"/><text x="100" y="2.9" class="t5">0.09</text></g>
</g>
<g id="b-G-blocks">
<rect class="bx" x="-15.3" y="51.8" width="30.6" height="63.4" rx="12"/><text class="bl" x="0" y="54.3">B<tspan font-size="5" dy="-2.5">−</tspan></text>
<rect class="bx" x="18" y="51.8" width="30.6" height="63.4" rx="12"/><text class="bl" x="33.3" y="54.3">B<tspan font-size="5" dy="-2.5">+</tspan></text>
<rect class="bx" x="18" y="118.6" width="30.6" height="63.4" rx="12"/><text class="bl" x="33.3" y="121.1">B<tspan font-size="5" dy="-2.5">−</tspan></text>
<rect class="bx" x="51.4" y="118.6" width="30.6" height="63.4" rx="12"/><text class="bl" x="66.7" y="121.1">B<tspan font-size="5" dy="-2.5">+</tspan></text>
<rect class="bx" x="51.4" y="185.4" width="30.6" height="63.4" rx="12"/><text class="bl" x="66.7" y="187.9">B<tspan font-size="5" dy="-2.5">−</tspan></text>
<rect class="bx" x="84.7" y="185.4" width="30.6" height="63.4" rx="12"/><text class="bl" x="100" y="187.9">B<tspan font-size="5" dy="-2.5">+</tspan></text>
</g>
<text class="mt" x="50" y="274.7">G</text>
</g>

<!-- ============ (c) G ============ -->
<g id="panel-c-G" transform="translate(706.7,383.3)">
<g id="c-G-labels">
<line class="bar" x1="-10" y1="-23.3" x2="10" y2="-23.3"/><line class="bar" x1="23.3" y1="-23.3" x2="43.3" y2="-23.3"/><line class="bar" x1="56.7" y1="-23.3" x2="76.7" y2="-23.3"/><line class="bar" x1="90" y1="-23.3" x2="110" y2="-23.3"/>
<text class="lab" x="0" y="-32">u<tspan dy="2.5">1</tspan></text><text class="lab" x="33.3" y="-32">u<tspan dy="2.5">2</tspan></text><text class="lab" x="66.7" y="-32">u<tspan dy="2.5">3</tspan></text><text class="lab" x="100" y="-32">u<tspan dy="2.5">4</tspan></text>
</g>
<path class="br" d="M-10,-16H-21.7V250.7H-10M110,-16H121.7V250.7H110"/>
<g class="m">
<g><circle cx="0" r="11.3"/><text x="0" y="2.9">0.00</text><circle cx="33.3" r="11.3"/><text x="33.3" y="2.9">0.00</text><circle cx="66.7" r="11.3"/><text x="66.7" y="2.9">0.00</text><circle cx="100" r="11.3"/><text x="100" y="2.9">0.00</text></g>
<g transform="translate(0,33.4)"><circle cx="0" r="11.3" fill="#fbf6a0"/><text x="0" y="2.9" class="t5">1.00</text><circle cx="33.3" r="11.3"/><text x="33.3" y="2.9">0.00</text><circle cx="66.7" r="11.3"/><text x="66.7" y="2.9">0.00</text><circle cx="100" r="11.3"/><text x="100" y="2.9">0.00</text></g>
<g transform="translate(0,66.8)"><circle cx="0" r="11.3"/><text x="0" y="2.9">0.00</text><circle cx="33.3" r="11.3"/><text x="33.3" y="2.9">0.00</text><circle cx="66.7" r="11.3"/><text x="66.7" y="2.9">0.00</text><circle cx="100" r="11.3"/><text x="100" y="2.9">0.00</text></g>
<g transform="translate(0,100.2)"><circle cx="0" r="11.3"/><text x="0" y="2.9">0.00</text><circle cx="33.3" r="11.3" fill="#fbf6a0"/><text x="33.3" y="2.9" class="t5">1.00</text><circle cx="66.7" r="11.3"/><text x="66.7" y="2.9">0.00</text><circle cx="100" r="11.3"/><text x="100" y="2.9">0.00</text></g>
<g transform="translate(0,133.6)"><circle cx="0" r="11.3"/><text x="0" y="2.9">0.00</text><circle cx="33.3" r="11.3"/><text x="33.3" y="2.9">0.00</text><circle cx="66.7" r="11.3"/><text x="66.7" y="2.9">0.00</text><circle cx="100" r="11.3"/><text x="100" y="2.9">0.00</text></g>
<g transform="translate(0,167)"><circle cx="0" r="11.3"/><text x="0" y="2.9">0.00</text><circle cx="33.3" r="11.3"/><text x="33.3" y="2.9">0.00</text><circle cx="66.7" r="11.3" fill="#fbf6a0"/><text x="66.7" y="2.9" class="t5">1.00</text><circle cx="100" r="11.3"/><text x="100" y="2.9">0.00</text></g>
<g transform="translate(0,200.4)"><circle cx="0" r="11.3"/><text x="0" y="2.9">0.00</text><circle cx="33.3" r="11.3"/><text x="33.3" y="2.9">0.00</text><circle cx="66.7" r="11.3"/><text x="66.7" y="2.9">0.00</text><circle cx="100" r="11.3"/><text x="100" y="2.9">0.00</text></g>
<g transform="translate(0,233.8)"><circle cx="0" r="11.3"/><text x="0" y="2.9">0.00</text><circle cx="33.3" r="11.3"/><text x="33.3" y="2.9">0.00</text><circle cx="66.7" r="11.3"/><text x="66.7" y="2.9">0.00</text><circle cx="100" r="11.3" fill="#fbf6a0"/><text x="100" y="2.9" class="t5">1.00</text></g>
</g>
<g id="c-G-blocks">
<rect class="bx" x="-15.3" y="-15" width="30.6" height="63.4" rx="12"/><text class="bl" x="0" y="-12.5">B</text>
<rect class="bx" x="18" y="51.8" width="30.6" height="63.4" rx="12"/><text class="bl" x="33.3" y="54.3">B</text>
<rect class="bx" x="51.4" y="118.6" width="30.6" height="63.4" rx="12"/><text class="bl" x="66.7" y="121.1">B</text>
<rect class="bx" x="84.7" y="185.4" width="30.6" height="63.4" rx="12"/><text class="bl" x="100" y="187.9">B</text>
</g>
<text class="mt" x="50" y="274.7">G</text>
</g>

<!-- ============ (d) G ============ -->
<g id="panel-d-G" transform="translate(980.7,383.3)">
<g id="d-G-labels">
<line class="bar" x1="-10" y1="-23.3" x2="10" y2="-23.3"/><line class="bar" x1="23.3" y1="-23.3" x2="43.3" y2="-23.3"/><line class="bar" x1="56.7" y1="-23.3" x2="76.7" y2="-23.3"/><line class="bar" x1="90" y1="-23.3" x2="110" y2="-23.3"/>
<text class="lab" x="0" y="-32">u<tspan dy="2.5">1</tspan></text><text class="lab" x="33.3" y="-32">u<tspan dy="2.5">2</tspan></text><text class="lab" x="66.7" y="-32">u<tspan dy="2.5">3</tspan></text><text class="lab" x="100" y="-32">u<tspan dy="2.5">4</tspan></text>
</g>
<path class="br" d="M-10,-16H-21.7V250.7H-10M110,-16H121.7V250.7H110"/>
<g class="m">
<g><circle cx="0" r="11.3"/><text x="0" y="2.9">0.00</text><circle cx="33.3" r="11.3"/><text x="33.3" y="2.9">0.00</text><circle cx="66.7" r="11.3"/><text x="66.7" y="2.9">0.00</text><circle cx="100" r="11.3"/><text x="100" y="2.9">0.00</text></g>
<g transform="translate(0,33.4)"><circle cx="0" r="11.3" fill="#fbf6a0"/><text x="0" y="2.9" class="t5">1.00</text><circle cx="33.3" r="11.3"/><text x="33.3" y="2.9">0.00</text><circle cx="66.7" r="11.3"/><text x="66.7" y="2.9">0.00</text><circle cx="100" r="11.3"/><text x="100" y="2.9">0.00</text></g>
<g transform="translate(0,66.8)"><circle cx="0" r="11.3"/><text x="0" y="2.9">0.00</text><circle cx="33.3" r="11.3"/><text x="33.3" y="2.9">0.00</text><circle cx="66.7" r="11.3"/><text x="66.7" y="2.9">0.00</text><circle cx="100" r="11.3"/><text x="100" y="2.9">0.00</text></g>
<g transform="translate(0,100.2)"><circle cx="0" r="11.3"/><text x="0" y="2.9">0.00</text><circle cx="33.3" r="11.3" fill="#fbf6a0"/><text x="33.3" y="2.9" class="t5">1.00</text><circle cx="66.7" r="11.3"/><text x="66.7" y="2.9">0.00</text><circle cx="100" r="11.3"/><text x="100" y="2.9">0.00</text></g>
<g transform="translate(0,133.6)"><circle cx="0" r="11.3"/><text x="0" y="2.9">0.00</text><circle cx="33.3" r="11.3"/><text x="33.3" y="2.9">0.00</text><circle cx="66.7" r="11.3"/><text x="66.7" y="2.9">0.00</text><circle cx="100" r="11.3"/><text x="100" y="2.9">0.00</text></g>
<g transform="translate(0,167)"><circle cx="0" r="11.3"/><text x="0" y="2.9">0.00</text><circle cx="33.3" r="11.3"/><text x="33.3" y="2.9">0.00</text><circle cx="66.7" r="11.3" fill="#fbf6a0"/><text x="66.7" y="2.9" class="t5">1.00</text><circle cx="100" r="11.3"/><text x="100" y="2.9">0.00</text></g>
<g transform="translate(0,200.4)"><circle cx="0" r="11.3"/><text x="0" y="2.9">0.00</text><circle cx="33.3" r="11.3"/><text x="33.3" y="2.9">0.00</text><circle cx="66.7" r="11.3"/><text x="66.7" y="2.9">0.00</text><circle cx="100" r="11.3"/><text x="100" y="2.9">0.00</text></g>
<g transform="translate(0,233.8)"><circle cx="0" r="11.3"/><text x="0" y="2.9">0.00</text><circle cx="33.3" r="11.3"/><text x="33.3" y="2.9">0.00</text><circle cx="66.7" r="11.3"/><text x="66.7" y="2.9">0.00</text><circle cx="100" r="11.3" fill="#fbf6a0"/><text x="100" y="2.9" class="t5">1.00</text></g>
</g>
<g id="d-G-blocks">
<rect class="bx" x="-15.3" y="-15" width="30.6" height="63.4" rx="12"/><text class="bl" x="0" y="-12.5">B</text>
<rect class="bx" x="18" y="51.8" width="30.6" height="63.4" rx="12"/><text class="bl" x="33.3" y="54.3">B</text>
<rect class="bx" x="51.4" y="118.6" width="30.6" height="63.4" rx="12"/><text class="bl" x="66.7" y="121.1">B</text>
<rect class="bx" x="84.7" y="185.4" width="30.6" height="63.4" rx="12"/><text class="bl" x="100" y="187.9">B</text>
</g>
<text class="mt" x="50" y="274.7">G</text>
</g>

<g id="connectors"></g>

<g id="captions">
<text class="cap" x="148" y="690">(a) ZOH (<tspan fill="#e8413a">16</tspan>).</text>
<text class="cap" x="450" y="690">(b) RK4 (<tspan fill="#e8413a">22</tspan>).</text>
<text class="cap" x="769" y="690">(c) Global CGL (<tspan fill="#e8413a">28</tspan>).</text>
<text class="cap" x="1030" y="690">(d) Adaptive CGL (<tspan fill="#e8413a">30</tspan>).</text>
</g>
</svg>
